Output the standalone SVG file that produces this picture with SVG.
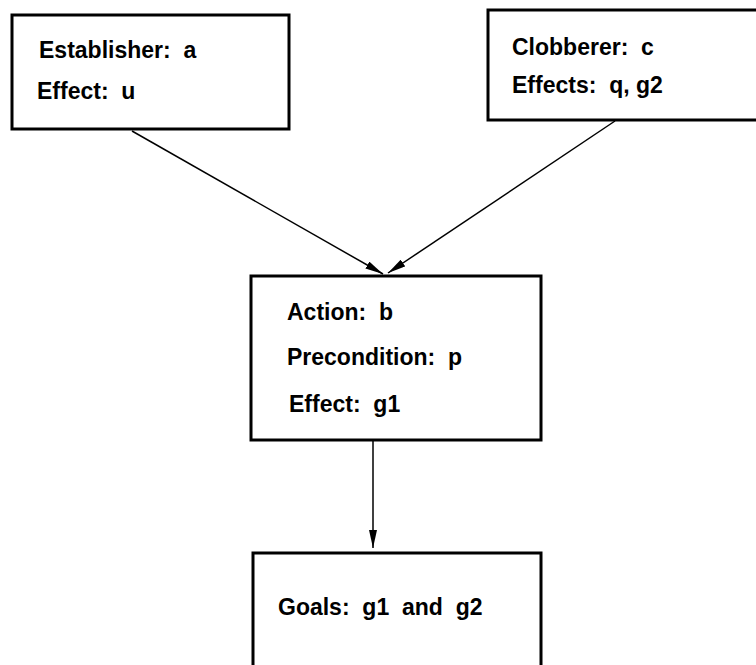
<svg xmlns="http://www.w3.org/2000/svg" width="756" height="665" viewBox="0 0 756 665">
<style>
.box{fill:#fff;stroke:#000;stroke-width:3}
.t{font-family:"Liberation Sans",Arial,sans-serif;font-weight:bold;font-size:23px;fill:#000;white-space:pre}
.c{stroke:#000;stroke-width:1.5;fill:none;marker-end:url(#ah)}
</style>
<defs>
<marker id="ah" markerUnits="userSpaceOnUse" markerWidth="18" markerHeight="8" refX="18" refY="4" orient="auto">
<path d="M0,0 L18,4 L0,8 z" fill="#000"/>
</marker>
</defs>
<rect width="756" height="665" fill="#fff"/>
<g id="establisher">
<rect class="box" x="12" y="15" width="277" height="114"/>
<text class="t" x="39" y="58" xml:space="preserve">Establisher:  a</text>
<text class="t" x="37" y="99" xml:space="preserve">Effect:  u</text>
</g>
<g id="clobberer">
<rect class="box" x="488" y="10" width="280" height="110"/>
<text class="t" x="512" y="55" xml:space="preserve">Clobberer:  c</text>
<text class="t" x="512" y="93" xml:space="preserve">Effects:  q, g2</text>
</g>
<g id="action">
<rect class="box" x="251" y="276" width="290" height="164"/>
<text class="t" x="287" y="320" xml:space="preserve">Action:  b</text>
<text class="t" x="287" y="365" xml:space="preserve">Precondition:  p</text>
<text class="t" x="289" y="412" xml:space="preserve">Effect:  g1</text>
</g>
<g id="goals">
<rect class="box" x="253" y="553" width="288" height="130"/>
<text class="t" x="278" y="615" xml:space="preserve">Goals:  g1  and  g2</text>
</g>
<g id="connectors">
<line class="c" x1="132" y1="131" x2="383" y2="274"/>
<line class="c" x1="615" y1="121" x2="388" y2="273"/>
<line class="c" x1="373" y1="441" x2="373" y2="548"/>
</g>
</svg>
